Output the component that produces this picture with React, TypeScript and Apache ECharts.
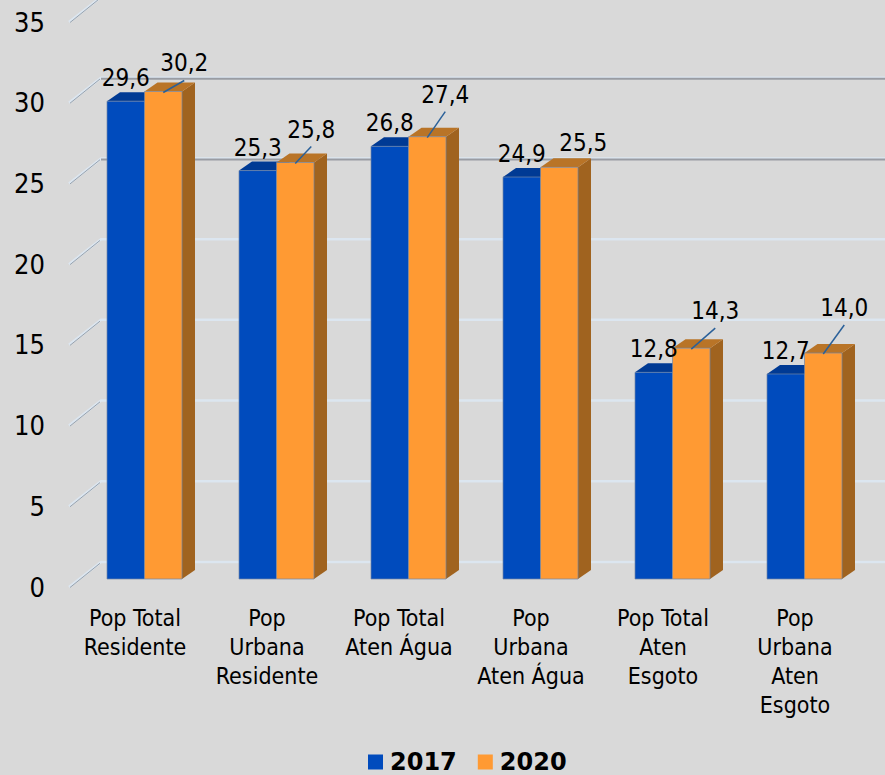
import React, { useEffect, useRef } from "react";
import * as echarts from "echarts";

const categories = [
  "Pop Total\nResidente",
  "Pop\nUrbana\nResidente",
  "Pop Total\nAten Água",
  "Pop\nUrbana\nAten Água",
  "Pop Total\nAten\nEsgoto",
  "Pop\nUrbana\nAten\nEsgoto",
];
const values2017 = [29.6, 25.3, 26.8, 24.9, 12.8, 12.7];
const values2020 = [30.2, 25.8, 27.4, 25.5, 14.3, 14.0];
const yTicks = [0, 5, 10, 15, 20, 25, 30, 35];
const darkTicks = [25, 30];

// layout: offset of each label of the 2020 series from the top of its bar, and whether it has a leader line
const labelOffsets2020 = [
  [21, -28, true],
  [16, -33, true],
  [18, -42, true],
  [24, -24, false],
  [24, -37, true],
  [21, -45, true],
];

const FONT = "'DejaVu Sans Condensed','DejaVu Sans',sans-serif";
const BAR_W = 37.5;
const DX = 13;
const DY = -9;
const PLANE_X = 9.5;
const PLANE_Y = -8;
const WALL_X = 32;
const WALL_Y = -25;

const fmt = (v: number) => v.toFixed(1).replace(".", ",");

function barItem(isFirst: boolean, colors: { front: string; top: string; side: string }) {
  return (params: any, api: any) => {
    const i = api.value(0);
    const v = api.value(1);
    const p = api.coord([i, v]);
    const b = api.coord([i, 0]);
    const cx = p[0] + PLANE_X;
    const x0 = isFirst ? cx - BAR_W : cx;
    const x1 = isFirst ? cx : cx + BAR_W;
    const y = p[1] + PLANE_Y;
    const base = b[1] + PLANE_Y;
    const edge = { stroke: "rgba(115,135,165,0.7)", lineWidth: 1 };
    const children: any[] = [
      {
        type: "polygon",
        shape: { points: [[x1, y], [x1 + DX, y + DY], [x1 + DX, base + DY], [x1, base]] },
        style: { fill: colors.side },
      },
      {
        type: "polygon",
        shape: { points: [[x0, y], [x0 + DX, y + DY], [x1 + DX, y + DY], [x1, y]] },
        style: { fill: colors.top },
      },
      {
        type: "rect",
        shape: { x: x0, y, width: x1 - x0, height: base - y },
        style: { fill: colors.front, ...edge },
      },
    ];
    const mid = (x0 + x1) / 2;
    let lx = mid;
    let ly = y - 23;
    if (!isFirst) {
      const o = labelOffsets2020[i];
      lx = mid + (o[0] as number);
      ly = y + (o[1] as number);
      if (o[2]) {
        children.push({
          type: "line",
          z2: 50,
          shape: { x1: mid, y1: y + 1, x2: lx, y2: ly + 17 },
          style: { stroke: "#2a6099", lineWidth: 1.5 },
        });
      }
    }
    children.push({
      type: "text",
      z2: 100,
      x: lx,
      y: ly,
      style: {
        text: fmt(v),
        fill: "#000",
        font: `24px ${FONT}`,
        align: "center",
        verticalAlign: "middle",
      },
    });
    return { type: "group", children };
  };
}

function gridItem(params: any, api: any) {
  const v = api.value(0);
  const p = api.coord([0, v]);
  const half = api.size([1, 0])[0] / 2;
  const x0 = p[0] - half;
  const y0 = p[1];
  const xw = x0 + WALL_X;
  const yw = y0 + WALL_Y;
  const xe = api.getWidth();
  const children: any[] = [
    {
      type: "polyline",
      shape: { points: [[x0, y0], [xw, yw], [xe, yw]] },
      style: { fill: "none", stroke: "#dce6f0", lineWidth: 2.5 },
    },
    {
      type: "line",
      shape: { x1: x0 + 1, y1: y0 + 0.5, x2: xw - 1, y2: yw + 1.3 },
      style: { stroke: "#97a2ae", lineWidth: 1 },
    },
  ];
  if (darkTicks.includes(v)) {
    children.push({
      type: "line",
      shape: { x1: xw, y1: yw + 1, x2: xe, y2: yw + 1 },
      style: { stroke: "#999ca3", lineWidth: 2 },
    });
  }
  return { type: "group", children };
}

export default function App() {
  const ref = useRef<HTMLDivElement>(null);
  useEffect(() => {
    const chart = echarts.init(ref.current!, undefined, { renderer: "svg" });
    chart.setOption({
      animation: false,
      backgroundColor: "#d9d9d9",
      grid: { left: 69, width: 792, top: 22, height: 565 },
      legend: {
        data: ["2017", "2020"],
        left: 368,
        top: 750,
        padding: 0,
        icon: "rect",
        itemWidth: 15,
        itemHeight: 15,
        itemGap: 21,
        textStyle: {
          fontFamily: "'DejaVu Sans',sans-serif",
          fontWeight: "bold",
          fontSize: 24,
          lineHeight: 22,
          color: "#000",
          padding: [0, 0, 0, 2],
        },
      },
      xAxis: {
        type: "category",
        data: categories,
        axisLine: { show: false },
        axisTick: { show: false },
        axisLabel: { interval: 0, margin: 16, color: "#000", fontFamily: FONT, fontSize: 23, lineHeight: 29 },
      },
      yAxis: {
        type: "value",
        min: 0,
        max: 35,
        interval: 5,
        axisLine: { show: false },
        axisTick: { show: false },
        splitLine: { show: false },
        axisLabel: { margin: 24, color: "#000", fontFamily: FONT, fontSize: 27 },
      },
      series: [
        {
          type: "custom",
          name: "grade",
          clip: false,
          data: yTicks.map((t) => [t]),
          encode: { y: 0 },
          renderItem: gridItem,
          silent: true,
        },
        {
          type: "custom",
          name: "2017",
          clip: false,
          itemStyle: { color: "#004bbd" },
          data: values2017.map((v, i) => [i, v]),
          encode: { x: 0, y: 1 },
          renderItem: barItem(true, { front: "#004bbd", top: "#003a94", side: "#003a94" }),
        },
        {
          type: "custom",
          name: "2020",
          clip: false,
          itemStyle: { color: "#ff9a33" },
          data: values2020.map((v, i) => [i, v]),
          encode: { x: 0, y: 1 },
          renderItem: barItem(false, { front: "#ff9a33", top: "#b97427", side: "#a0631f" }),
        },
      ],
    });
    return () => chart.dispose();
  }, []);
  return <div ref={ref} style={{ position: "absolute", left: 0, top: 0, width: 885, height: 775 }} />;
}
